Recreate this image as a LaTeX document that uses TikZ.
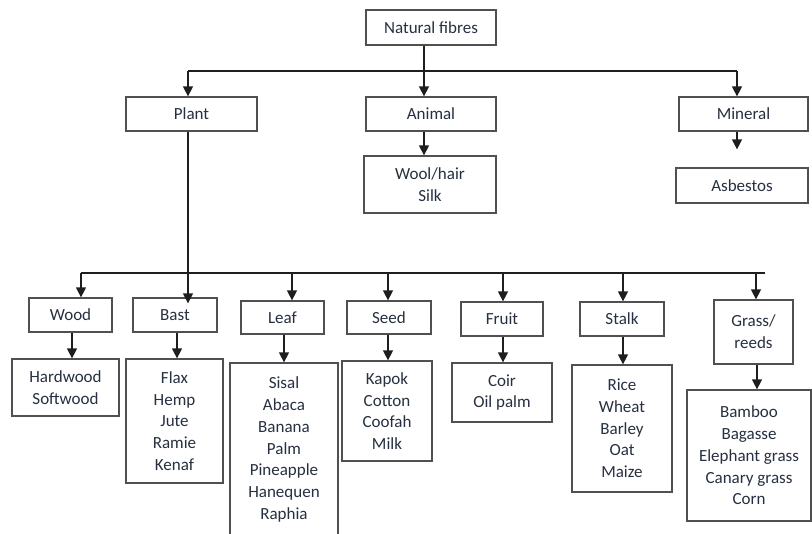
\documentclass[tikz,border=0pt]{standalone}
\usepackage{fontspec}
\setmainfont{Carlito}
\usetikzlibrary{arrows.meta}
\definecolor{txt}{RGB}{38,48,64}
\definecolor{brd}{RGB}{80,80,80}
\definecolor{lnc}{RGB}{30,30,30}
\begin{document}
\begin{tikzpicture}[x=1pt,y=-1pt,
  box/.style={draw=brd, line width=1.3pt, fill=white, inner sep=0pt, align=center,
    text=txt, font=\fontsize{17}{21.7}\selectfont},
  ln/.style={draw=lnc, line width=1.5pt},
  arr/.style={ln, -{Triangle[width=10pt,length=10pt]}}]
\useasboundingbox (0,0) rectangle (812,534);
\clip (0,0) rectangle (812,534);
% top level
\node[box, minimum width=130pt, minimum height=35pt] (nf) at (431,27.5) {Natural fibres};
\node[box, minimum width=131pt, minimum height=34pt] (plant) at (191.5,114) {Plant};
\node[box, minimum width=130pt, minimum height=34pt] (animal) at (431,114) {Animal};
\node[box, minimum width=129pt, minimum height=34pt] (mineral) at (743.5,114) {Mineral};
\node[box, minimum width=132pt, minimum height=57pt] (wool) at (430,184.5) {Wool/hair\\Silk};
\node[box, minimum width=132pt, minimum height=35pt] (asbestos) at (742,185.5) {Asbestos};
% plant categories
\node[box, minimum width=83pt, minimum height=34pt] (wood) at (70.5,315) {Wood};
\node[box, minimum width=84pt, minimum height=34pt] (bast) at (175,315) {Bast};
\node[box, minimum width=83pt, minimum height=33pt] (leaf) at (282.5,317.5) {Leaf};
\node[box, minimum width=84pt, minimum height=33pt] (seed) at (389,317.5) {Seed};
\node[box, minimum width=82pt, minimum height=34pt] (fruit) at (502,319) {Fruit};
\node[box, minimum width=84pt, minimum height=34pt] (stalk) at (622,319) {Stalk};
\node[box, minimum width=79pt, minimum height=64pt] (grass) at (753.5,332) {Grass/\\reeds};
% lists
\node[box, minimum width=107pt, minimum height=57pt] (hard) at (65.5,387.5) {Hardwood\\Softwood};
\node[box, minimum width=97pt, minimum height=124pt] (flax) at (174.5,421) {Flax\\Hemp\\Jute\\Ramie\\Kenaf};
\node[box, minimum width=108pt, minimum height=173pt] (sisal) at (284,449.5) {Sisal\\Abaca\\Banana\\Palm\\Pineapple\\Hanequen\\Raphia};
\node[box, minimum width=90pt, minimum height=100pt] (kapok) at (387,411) {Kapok\\Cotton\\Coofah\\Milk};
\node[box, minimum width=100pt, minimum height=59pt] (coir) at (502,392.5) {Coir\\Oil palm};
\node[box, minimum width=100pt, minimum height=127pt] (rice) at (622,428.5) {Rice\\Wheat\\Barley\\Oat\\Maize};
\node[box, minimum width=124pt, minimum height=131pt] (bamboo) at (749,455.5) {Bamboo\\Bagasse\\Elephant grass\\Canary grass\\Corn};
% bus coordinates
\coordinate (bus1) at (0,71);
\coordinate (bus2) at (0,273);
% top connectors
\draw[ln] ([xshift=-7]nf.south) -- ([xshift=-7]nf.south |- bus1);
\draw[ln] ([xshift=-3.5]plant.north |- bus1) -- ([xshift=-6.5]mineral.north |- bus1);
\draw[arr] ([xshift=-3.5]plant.north |- bus1) -- ([xshift=-3.5]plant.north);
\draw[arr] ([xshift=-7]animal.north |- bus1) -- ([xshift=-7]animal.north);
\draw[arr] ([xshift=-6.5]mineral.north |- bus1) -- ([xshift=-6.5]mineral.north);
\draw[arr] ([xshift=-7]animal.south) -- ([xshift=-7]animal.south |- wool.north);
\draw[arr, shorten >=18pt] ([xshift=-6.5]mineral.south) -- ([xshift=-6.5]mineral.south |- asbestos.north);
% plant trunk into bast
\draw[arr, shorten >=-6pt] ([xshift=-3.5]plant.south) -- ([xshift=-3.5]plant.south |- bast.north);
% second bus
\draw[ln] ([xshift=10.5]wood.north |- bus2) -- ([xshift=11.5]grass.north |- bus2);
\draw[arr] ([xshift=10.5]wood.north |- bus2) -- ([xshift=10.5]wood.north);
\draw[arr] ([xshift=9.5]leaf.north |- bus2) -- ([xshift=9.5]leaf.north);
\draw[arr] ([xshift=-1]seed.north |- bus2) -- ([xshift=-1]seed.north);
\draw[arr] ([xshift=1]fruit.north |- bus2) -- ([xshift=1]fruit.north);
\draw[arr] ([xshift=1]stalk.north |- bus2) -- ([xshift=1]stalk.north);
\draw[arr] ([xshift=2.5]grass.north |- bus2) -- ([xshift=2.5]grass.north);
% children
\draw[arr] ([xshift=1.5]wood.south) -- ([xshift=1.5]wood.south |- hard.north);
\draw[arr] ([xshift=2]bast.south) -- ([xshift=2]bast.south |- flax.north);
\draw[arr] ([xshift=1.5]leaf.south) -- ([xshift=1.5]leaf.south |- sisal.north);
\draw[arr] ([xshift=-1]seed.south) -- ([xshift=-1]seed.south |- kapok.north);
\draw[arr] ([xshift=1]fruit.south) -- ([xshift=1]fruit.south |- coir.north);
\draw[arr] ([xshift=1]stalk.south) -- ([xshift=1]stalk.south |- rice.north);
\draw[arr] ([xshift=3.5]grass.south) -- ([xshift=3.5]grass.south |- bamboo.north);
\end{tikzpicture}
\end{document}
